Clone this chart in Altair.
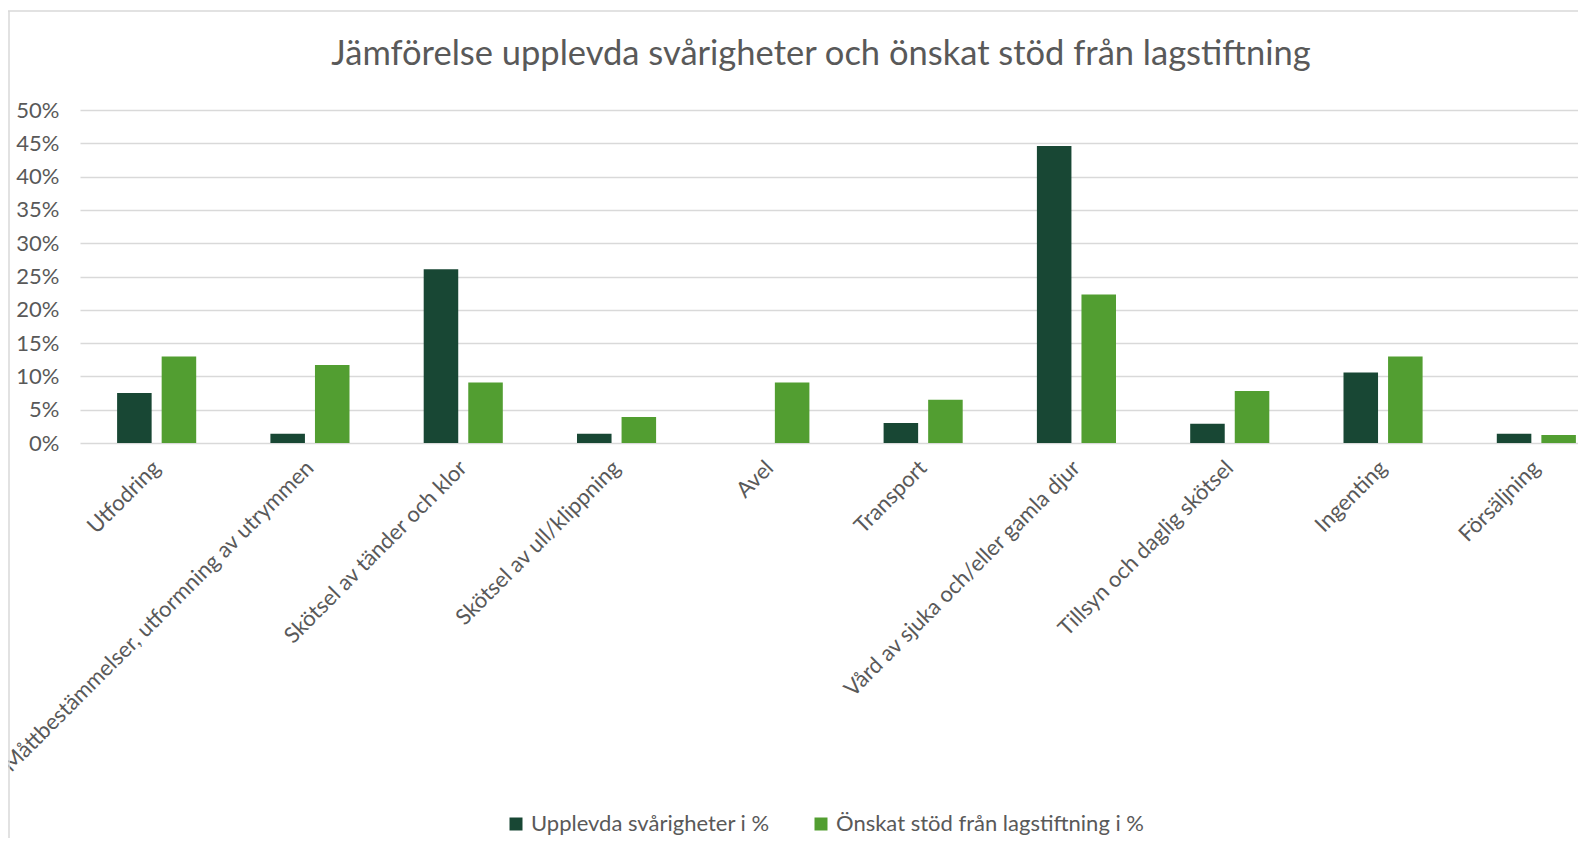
import altair as alt
import pandas as pd

categories = [
    "Utfodring",
    "Måttbestämmelser, utformning av utrymmen",
    "Skötsel av tänder och klor",
    "Skötsel av ull/klippning",
    "Avel",
    "Transport",
    "Vård av sjuka och/eller gamla djur",
    "Tillsyn och daglig skötsel",
    "Ingenting",
    "Försäljning",
]
series = ["Upplevda svårigheter i %", "Önskat stöd från lagstiftning i %"]
upplevda = [7.5, 1.4, 26.1, 1.4, 0.0, 3.0, 44.6, 2.9, 10.6, 1.4]
onskat = [13.0, 11.7, 9.1, 3.9, 9.1, 6.5, 22.3, 7.8, 13.0, 1.2]
colors = ["#184734", "#529E31"]
y_ticks = [0, 5, 10, 15, 20, 25, 30, 35, 40, 45, 50]

rows = []
for c, a, b in zip(categories, upplevda, onskat):
    rows.append({"kategori": c, "serie": series[0], "varde": a})
    rows.append({"kategori": c, "serie": series[1], "varde": b})
df = pd.DataFrame(rows)

W = 1498
H = 333
FONT = "Lato"
GREY = "#595959"

bars = alt.Chart(df).mark_bar().encode(
    x=alt.X(
        "kategori:N",
        sort=categories,
        scale=alt.Scale(range=[0, 1533], paddingInner=0.484, paddingOuter=0.242),
        axis=alt.Axis(
            title=None,
            labelAngle=-45,
            labelAlign="right",
            labelBaseline="middle",
            labelPadding=21,
            labelFontSize=22,
            labelFont=FONT,
            labelColor=GREY,
            labelLimit=1000,
            labelOverlap=False,
            ticks=False,
            domain=False,
            grid=False,
        ),
    ),
    xOffset=alt.XOffset(
        "serie:N",
        sort=series,
        scale=alt.Scale(paddingInner=0.225, paddingOuter=0),
    ),
    y=alt.Y(
        "varde:Q",
        scale=alt.Scale(domain=[0, 50], nice=False),
        axis=alt.Axis(
            title=None,
            values=y_ticks,
            labelExpr="datum.value + '%'",
            labelFontSize=22,
            labelFont=FONT,
            labelColor=GREY,
            labelPadding=21,
            ticks=False,
            domain=False,
            grid=True,
            gridColor="#d9d9d9",
            gridWidth=1.4,
        ),
    ),
    color=alt.Color(
        "serie:N",
        sort=series,
        scale=alt.Scale(domain=series, range=colors),
        legend=alt.Legend(
            title=None,
            orient="none",
            legendX=425,
            legendY=703,
            direction="horizontal",
            symbolType="square",
            symbolSize=169,
            symbolStrokeWidth=0,
            labelFontSize=22,
            labelFont=FONT,
            labelColor=GREY,
            columnPadding=40,
            labelLimit=1000,
        ),
    ),
)

frame = pd.DataFrame({"d": [0]})
top_border = alt.Chart(frame).mark_rule(color="#d9d9d9", strokeWidth=1.5).encode(
    x=alt.value(-72), x2=alt.value(W), y=alt.value(-99)
)
left_border = alt.Chart(frame).mark_rule(color="#d9d9d9", strokeWidth=1.5).encode(
    x=alt.value(-71), y=alt.value(-99), y2=alt.value(740)
)

chart = alt.layer(top_border, left_border, bars).properties(
    width=W,
    height=H,
    autosize=alt.AutoSizeParams(type="none"),
    padding={"left": 72, "top": 102, "right": 0, "bottom": 395},
    title=alt.Title(
        "Jämförelse upplevda svårigheter och önskat stöd från lagstiftning",
        fontSize=34.5,
        font=FONT,
        fontWeight="normal",
        color=GREY,
        anchor="middle",
        baseline="alphabetic",
        dx=-8,
        dy=89,
        offset=0,
    ),
).configure_view(stroke=None)

chart.save("out.html", embed_options={"renderer": "svg", "actions": False})
